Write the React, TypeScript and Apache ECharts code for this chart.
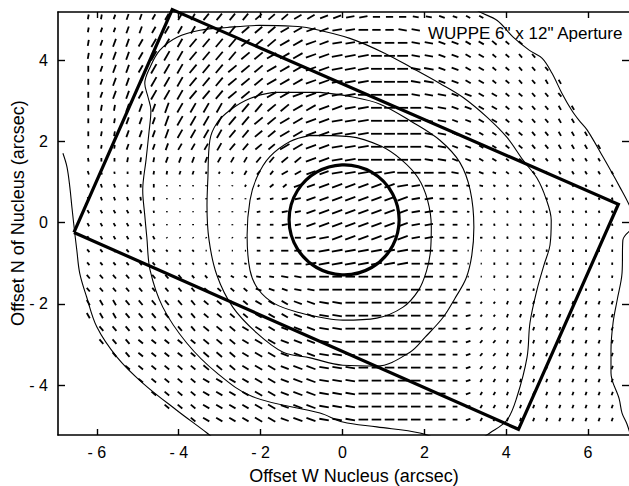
import React, { useEffect, useRef } from 'react';
import * as echarts from 'echarts';

const FONT = '"Liberation Sans", Arial, Helvetica, sans-serif';

// Axes
const X_TICKS = [-6, -4, -2, 0, 2, 4, 6];
const Y_TICKS = [-4, -2, 0, 2, 4];
const X_RANGE = [-6.95, 7.0];
const Y_RANGE = [-5.23, 5.19];

// Texts
const X_TITLE = 'Offset W Nucleus (arcsec)';
const Y_TITLE = 'Offset N of Nucleus (arcsec)';
const PANEL_LABEL = 'WUPPE 6" x 12" Aperture';

// Polarization-vector grid positions (arcsec)
const GRID_X = [-6.21, -5.89, -5.57, -5.25, -4.93, -4.61, -4.29, -3.97, -3.65, -3.33, -3.01, -2.69, -2.37, -2.05, -1.73, -1.41, -1.09, -0.77, -0.45, -0.13, 0.19, 0.51, 0.83, 1.15, 1.47, 1.79, 2.11, 2.43, 2.75, 3.07, 3.39, 3.71, 4.03, 4.35, 4.67, 4.99, 5.31, 5.63, 5.95, 6.27, 6.59];
const GRID_Y = [5.07, 4.75, 4.43, 4.11, 3.79, 3.47, 3.15, 2.83, 2.51, 2.19, 1.87, 1.55, 1.23, 0.91, 0.59, 0.27, -0.05, -0.37, -0.69, -1.01, -1.33, -1.65, -1.97, -2.29, -2.61, -2.93, -3.25, -3.57, -3.89, -4.21, -4.53, -4.85];

// Vector position angle per grid point: A=0deg, B=10deg, ... R=170deg (counter-clockwise from +x); '.' = none
const ANGLE_ROWS = [
  'IIHHHGGGGF FFFEEEDDCC BBAAARRQQP P......... .',
  'IHHHHGGGGF FFEEEDDCCB BAAARR.... .......... .',
  'IHHHGGGGFF FFEEEDDCCB BBAAARRQQP POOO...... .',
  'IHHHGGGGFF FFEEDDDCCB BBAAARRQQP POONN..... .',
  'JHHHGGGGFF FEEEDDDCCB BBAAARRQQP POONNN.... .',
  'JHHHGGGGFF FEEEDDDCCB BBAAARRQQP POONNMM... .',
  'JHHHGGGGFF FEEEDDCCCB BAAAARRRQQ PPOONNN... .',
  'JIIHHHHGGG GFFFEEDDCC BBAAAARRQQ PPOONNMM.. .',
  'JIIHHHHGGG GFFEEDDCCB BBAAAARRQQ PPOONNMM.. .',
  'JIIHHHHGGG GFFEEDDCCB BBAAAARRQQ PPOONNMMM. .',
  'JIIHHHHGGG GFFEEDDCCB BBAAAARRQQ PPOONNMMMM .',
  'KJJIIIHHHH GGGFFEECCB BAAAAARRQQ PPOONNMMMM .',
  'LLKJJIIHHH GGGFFDDCCB BBBBAAAARR QQOONNMMMM M',
  'LLLKJJIIIH HHGGEECCCC CCCCBBAAAR RPPNNMMMMM M',
  'LLLLKJJJJJ JJJBBBBCCC CCCCCBBAAR RNNLLLLLLL L',
  'MMMMLKJJJJ JJJBBBBCCC CCCCCBBAAR RLLLLLLLLL L',
  'MMMMMLJJJJ JJJAABBCCC CCCCCBBAAA AKKKKKKKKK K',
  'MMMMMMMMMM MMMAAAABBC CCCCCBBAAA AKKKKKKKKK K',
  'NNNNNNNNNA AAAAAAAABB BBBBBAAAAA AJJJJJJJJJ J',
  'NNNNNNNNNN RRRAAAABBB BBBBBAAAAA AJJJJJJJJJ J',
  'NNNNNNNNNN PPPRRRRAAA AAAAAAAAAA AIIIIIIIII I',
  'NNNNNNNNNO OOOQQQRRAA AAAAAAAAAA EEIIIIIIII I',
  'MMMNNNNNNO OOOPPPQQRR AAAAAAAAAA FFHHHHHHHH H',
  'MMMNNNNNNO OOOPPPQQRR AAAAAAAAAB FFHHHHHHHH H',
  '.NNNNNNNNO OOPPPQQQRR AAAAAAAAAB FFHHHHHHHH H',
  '.NNNOOOOOO OOPPPQQQRR AAAAAAAAAC FFHHHHHHHH H',
  '..NNOOOOOO OOPPPQQQRR RAAAAAAAAC FFHHHHHHHH H',
  '...OOOOOOO OOPPPQQQRR RAAAAAAAAC FFHHHHHHHH H',
  '....OOOOOP PPPPPQQQRR RAAAAAAAAC GGHHHHHHHH H',
  '.....OOOOP PPPPPQQQRR RAAAAAAAAC GGHHHHHHHH H',
  '......OOOP PPPPPQQQRR RAAAAAAAAC GGHHHHHHHH H',
  '........OP PPPPPQQQRR RAAAAAAAAC GGHHHHHHHH H',
];

// Vector length code per grid point (1 = dot ... 9 = longest); '.' = none
const LENGTH_ROWS = [
  '4445556667 7777777777 7766655544 4......... .',
  '4446667778 8888888888 887777.... .......... .',
  '5577788899 9999999988 8888877665 5544...... .',
  '5577799999 9999999999 9999977665 54444..... .',
  '5577799999 9999999999 9999988665 544444.... .',
  '5577799999 9999999999 9999988665 5444444... .',
  '5577799999 9999999999 9999977766 5544444... .',
  '5557779999 9999999999 9999997766 55444444.. .',
  '4446669999 9999999999 9999997755 55444444.. .',
  '4446668888 8888899999 9999997755 444444444. .',
  '3335556666 7777799999 9999997755 4444444444 .',
  '3334445555 5556677999 9999997755 4433333333 .',
  '3322333332 2244466889 9999988664 4333333333 3',
  '3332331111 1122447799 9999977553 3222222222 2',
  '3333331111 1113355889 9999977442 2222222222 2',
  '3333321111 1113355899 9999977442 2222222222 2',
  '3333321111 1113355899 9999977442 2222222222 2',
  '3333331111 1113355889 9999977442 2222222222 2',
  '3333332221 1113366699 9999977441 1222222222 2',
  '3333332222 2224466999 9999977441 1222222222 2',
  '4444444433 3334466888 8888877441 1222222222 2',
  '4444444444 4445556688 8888886633 1122222222 2',
  '5555555555 5556667788 8888886644 2233333333 3',
  '5555555555 5556667788 8888886644 2233333333 3',
  '.555555556 6666667788 8888886644 3333333333 3',
  '.555555556 6667777788 8888886644 3333333333 3',
  '..55555556 6667777788 8888886644 3333333333 3',
  '...5555556 6667778888 8888886644 3333333333 3',
  '....555556 6667778888 8888886644 3333333333 3',
  '.....55556 6667778888 8888886644 3333333333 3',
  '......5556 6667778888 8888886644 3333333333 3',
  '........56 6667778888 8888886644 3333333333 3',
];

// Intensity contours (arcsec)
const CONTOUR_1 = [[-0.79, 2.15], [0.18, 2.12], [0.95, 1.88], [1.45, 1.54], [1.85, 1.1], [2.08, 0.55], [2.17, -0.1], [2.15, -0.7], [2.05, -1.2], [1.86, -1.66], [1.48, -2.08], [0.84, -2.35], [0.01, -2.4], [-0.38, -2.36], [-1.04, -2.22], [-1.65, -2.0], [-2.06, -1.64], [-2.26, -1.17], [-2.33, -0.31], [-2.26, 0.55], [-2.09, 1.12], [-1.78, 1.62], [-1.28, 2.0], [-0.79, 2.15]];
const CONTOUR_2 = [[-0.55, 3.21], [0.18, 3.11], [0.92, 2.92], [1.72, 2.47], [2.38, 2.03], [2.87, 1.48], [3.12, 0.8], [3.21, -0.11], [3.16, -0.8], [3.02, -1.37], [2.75, -1.86], [2.46, -2.33], [2.02, -2.82], [1.65, -3.19], [0.84, -3.53], [0.01, -3.51], [-0.79, -3.33], [-1.45, -3.19], [-2.09, -2.72], [-2.68, -2.08], [-3.07, -1.29], [-3.26, -0.43], [-3.31, 0.43], [-3.29, 1.05], [-3.24, 2.03], [-3.07, 2.45], [-2.75, 2.77], [-2.26, 3.06], [-1.6, 3.21], [-0.55, 3.21]];
const CONTOUR_3 = [[3.12, -5.48], [3.6, -5.18], [4.02, -4.86], [4.26, -4.3], [4.51, -3.31], [4.58, -2.47], [4.75, -1.66], [4.92, -1.05], [5.07, -0.55], [5.1, 0.06], [4.97, 0.6], [4.75, 1.1], [4.41, 1.54], [4.02, 2.1], [3.53, 2.6], [2.94, 3.09], [2.38, 3.43], [1.72, 3.8], [1.04, 4.17], [0.18, 4.54], [-0.79, 4.79], [-1.21, 4.84], [-2.02, 4.86], [-2.82, 4.81], [-3.48, 4.74], [-4.04, 4.57], [-4.46, 4.25], [-4.7, 3.83], [-4.83, 3.43], [-4.75, 3.09], [-4.68, 2.77], [-4.73, 2.2], [-4.8, 1.54], [-4.88, 0.8], [-4.83, 0.18], [-4.78, -0.36], [-4.7, -1.17], [-4.39, -2.08], [-3.8, -2.97], [-3.07, -3.7], [-2.19, -4.29], [-0.55, -4.69], [0.01, -4.91], [0.84, -5.03], [1.89, -5.18], [2.5, -5.4]];
const CONTOUR_4_LEFT = [[-6.83, 1.71], [-6.73, 1.37], [-6.66, 0.87], [-6.61, 0.38], [-6.54, -0.26], [-6.49, -0.68], [-6.42, -1.24], [-6.25, -1.83], [-6.0, -2.57], [-5.51, -3.31], [-4.88, -3.95], [-4.05, -4.62], [-3.31, -5.18], [-3.11, -5.35]];
const CONTOUR_4_RIGHT = [[3.12, 5.43], [3.29, 5.23], [3.78, 4.98], [4.17, 4.57], [4.56, 4.25], [4.88, 4.05], [5.12, 3.68], [5.36, 3.19], [5.6, 2.77], [5.78, 2.52], [5.98, 2.28], [6.37, 1.61], [6.78, 0.87], [7.03, 0.38], [7.15, 0.0], [6.85, -0.43], [6.83, -1.24], [6.71, -1.91], [6.61, -2.47], [6.56, -3.14], [6.56, -3.7], [6.76, -4.34], [6.83, -4.69], [6.95, -4.96], [7.07, -5.35]];

// 6" x 12" aperture corners and nucleus circle [x, y, radius]
const APERTURE = [[-6.56, -0.24], [-4.16, 5.25], [6.74, 0.455], [4.3, -5.09], [-6.56, -0.24]];
const NUCLEUS = [[0.04, 0.07, 1.35]];

const LEN_PX = 1.2;

function buildVectors() {
  const out: number[][] = [];
  GRID_Y.forEach((y, r) => {
    const a = ANGLE_ROWS[r].replace(/ /g, '');
    const l = LENGTH_ROWS[r].replace(/ /g, '');
    GRID_X.forEach((x, k) => {
      const ac = a[k];
      const lc = l[k];
      if (!ac || !lc || ac === '.' || lc === '.') return;
      out.push([x, y, (ac.charCodeAt(0) - 65) * 10, Number(lc)]);
    });
  });
  return out;
}

const fmt = (v: number) => (v < 0 ? '- ' + Math.abs(v) : String(v));

function contourSeries(data: number[][]) {
  return {
    type: 'line',
    data,
    smooth: 0.35,
    symbol: 'none',
    silent: true,
    clip: true,
    z: 3,
    lineStyle: { color: '#000', width: 1.1 },
  };
}

export default function App() {
  const ref = useRef<HTMLDivElement>(null);
  useEffect(() => {
    if (!ref.current) return;
    const chart = echarts.init(ref.current, undefined, { renderer: 'svg' });
    const axisLine = { show: true, onZero: false, lineStyle: { color: '#000', width: 1.6 } };
    const xTick = { show: true, inside: true, length: 6, customValues: X_TICKS, lineStyle: { color: '#000', width: 1.4 } };
    const yTick = { show: true, inside: true, length: 7, customValues: Y_TICKS, lineStyle: { color: '#000', width: 1.4 } };
    const labelStyle = { color: '#000', fontSize: 16, fontFamily: FONT, formatter: fmt };
    const textStyle = (fontSize: number, align: string) => ({
      fill: '#000', fontSize, fontFamily: FONT,
      textAlign: align, textVerticalAlign: 'middle', align, verticalAlign: 'middle',
    });
    const option: any = {
      animation: false,
      backgroundColor: '#fff',
      grid: { left: 58, right: 0, top: 12, bottom: 51 },
      xAxis: [
        {
          type: 'value', position: 'bottom', min: X_RANGE[0], max: X_RANGE[1],
          axisLine, axisTick: xTick,
          axisLabel: { ...labelStyle, customValues: X_TICKS, margin: 9 },
          splitLine: { show: false },
        },
        {
          type: 'value', position: 'top', min: X_RANGE[0], max: X_RANGE[1],
          axisLine, axisTick: xTick, axisLabel: { show: false }, splitLine: { show: false },
        },
      ],
      yAxis: [
        {
          type: 'value', position: 'left', min: Y_RANGE[0], max: Y_RANGE[1],
          axisLine, axisTick: yTick,
          axisLabel: { ...labelStyle, customValues: Y_TICKS, margin: 10 },
          splitLine: { show: false },
        },
        {
          type: 'value', position: 'right', min: Y_RANGE[0], max: Y_RANGE[1],
          axisLine: { show: false, onZero: false }, axisTick: yTick,
          axisLabel: { show: false }, splitLine: { show: false },
        },
      ],
      graphic: [
        { type: 'text', x: 428, y: 33, z: 10, style: { text: PANEL_LABEL, ...textStyle(17, 'left') } },
        { type: 'text', x: 354, y: 476, style: { text: X_TITLE, ...textStyle(18, 'center') } },
        { type: 'text', x: 18, y: 213, rotation: Math.PI / 2, style: { text: Y_TITLE, ...textStyle(18, 'center') } },
      ],
      series: [
        {
          type: 'custom',
          data: buildVectors(),
          encode: { x: 0, y: 1 },
          silent: true,
          z: 2,
          renderItem: (_p: any, api: any) => {
            const c = api.coord([api.value(0), api.value(1)]);
            const ang = (api.value(2) * Math.PI) / 180;
            const h = (api.value(3) * LEN_PX) / 2;
            const dx = Math.cos(ang) * h;
            const dy = -Math.sin(ang) * h;
            return {
              type: 'line',
              shape: { x1: c[0] - dx, y1: c[1] - dy, x2: c[0] + dx, y2: c[1] + dy },
              style: { stroke: '#000', lineWidth: 1.8, lineCap: 'butt' },
            };
          },
        },
        contourSeries(CONTOUR_1),
        contourSeries(CONTOUR_2),
        contourSeries(CONTOUR_3),
        contourSeries(CONTOUR_4_LEFT),
        contourSeries(CONTOUR_4_RIGHT),
        {
          type: 'line',
          data: APERTURE,
          symbol: 'none',
          silent: true,
          clip: false,
          z: 5,
          lineStyle: { color: '#000', width: 3.2, join: 'miter' },
        },
        {
          type: 'custom',
          data: NUCLEUS,
          encode: { x: 0, y: 1 },
          silent: true,
          z: 5,
          renderItem: (_p: any, api: any) => {
            const c = api.coord([api.value(0), api.value(1)]);
            const s = api.size([api.value(2), api.value(2)]);
            return {
              type: 'circle',
              shape: { cx: c[0], cy: c[1], r: (s[0] + s[1]) / 2 },
              style: { fill: 'none', stroke: '#000', lineWidth: 3.2 },
            };
          },
        },
      ],
    };
    chart.setOption(option);
    return () => chart.dispose();
  }, []);
  return (
    <div
      ref={ref}
      style={{ position: 'fixed', left: 0, top: 0, width: 629, height: 486, background: '#fff' }}
    />
  );
}
